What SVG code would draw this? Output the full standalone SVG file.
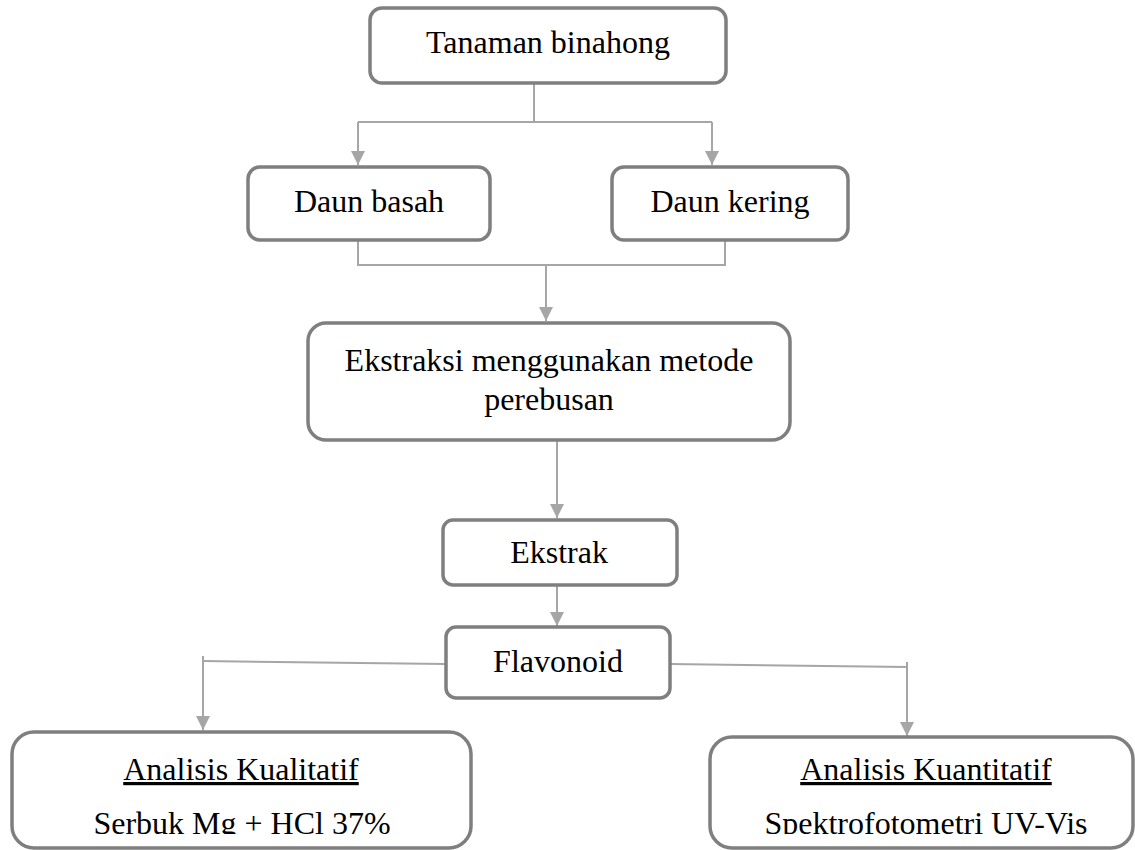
<svg xmlns="http://www.w3.org/2000/svg" width="1135" height="850" viewBox="0 0 1135 850">
<style>
.box{fill:#ffffff;stroke:#7f7f7f;stroke-width:3.5}
.t{font-family:"Liberation Serif","Times New Roman",serif;font-size:32px;fill:#000;text-anchor:middle}
.u{text-decoration:underline}
.c{fill:none;stroke:#a6a6a6;stroke-width:2}
</style>
<defs>
<marker id="ah" viewBox="0 0 14 14" refX="14" refY="7" markerWidth="14" markerHeight="14" markerUnits="userSpaceOnUse" orient="auto">
<path d="M0,0 L14,7 L0,14 z" fill="#a6a6a6"/>
</marker>
<clipPath id="clipL"><rect x="0" y="700" width="500" height="134"/></clipPath>
<clipPath id="clipR"><rect x="690" y="700" width="445" height="134"/></clipPath>
</defs>
<rect width="1135" height="850" fill="#ffffff"/>
<g id="connectors">
<path class="c" d="M534,83 V122 M358,122 H712"/>
<path class="c" d="M358,122 V165" marker-end="url(#ah)"/>
<path class="c" d="M712,122 V165" marker-end="url(#ah)"/>
<path class="c" d="M358,240 V265 H725 V240"/>
<path class="c" d="M546,265 V321" marker-end="url(#ah)"/>
<path class="c" d="M557,440 V518" marker-end="url(#ah)"/>
<path class="c" d="M557,585 V626" marker-end="url(#ah)"/>
<path class="c" d="M446,664 L203,661"/>
<path class="c" d="M203,656 V730" marker-end="url(#ah)"/>
<path class="c" d="M670,664 L907,667"/>
<path class="c" d="M907,662 V736" marker-end="url(#ah)"/>
</g>
<g id="n-tanaman">
<rect class="box" x="370" y="8" width="356" height="75" rx="12"/>
<text class="t" x="548" y="53">Tanaman binahong</text>
</g>
<g id="n-basah">
<rect class="box" x="248" y="167" width="242" height="73" rx="12"/>
<text class="t" x="369" y="212">Daun basah</text>
</g>
<g id="n-kering">
<rect class="box" x="612" y="167" width="236" height="73" rx="12"/>
<text class="t" x="730" y="212">Daun kering</text>
</g>
<g id="n-ekstraksi">
<rect class="box" x="308" y="323" width="482" height="117" rx="18"/>
<text class="t" x="549" y="371">Ekstraksi menggunakan metode</text>
<text class="t" x="549" y="410">perebusan</text>
</g>
<g id="n-ekstrak">
<rect class="box" x="443" y="520" width="234" height="65" rx="10"/>
<text class="t" x="559" y="563">Ekstrak</text>
</g>
<g id="n-flavonoid">
<rect class="box" x="446" y="627" width="224" height="71" rx="10"/>
<text class="t" x="558" y="672">Flavonoid</text>
</g>
<g id="n-kualitatif">
<rect class="box" x="12" y="732" width="459" height="116" rx="22"/>
<text class="t u" x="241" y="780">Analisis Kualitatif</text>
<text class="t" x="242" y="834" clip-path="url(#clipL)">Serbuk Mg + HCl 37%</text>
</g>
<g id="n-kuantitatif">
<rect class="box" x="710" y="737" width="423" height="111" rx="22"/>
<text class="t u" x="926" y="780">Analisis Kuantitatif</text>
<text class="t" x="926" y="834" clip-path="url(#clipR)">Spektrofotometri UV-Vis</text>
</g>
</svg>
